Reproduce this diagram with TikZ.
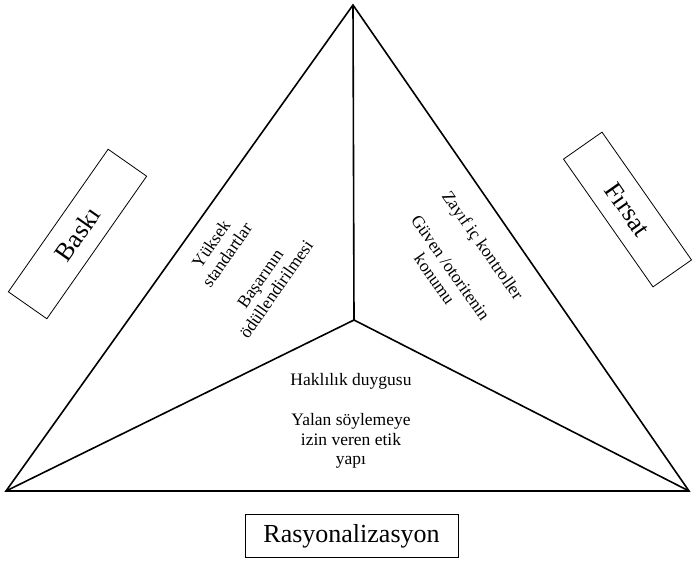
\documentclass[tikz,border=0pt]{standalone}
\usepackage{fontspec}
\setmainfont{Liberation Serif}
\usepackage{tikz}
\usetikzlibrary{positioning}

\begin{document}
\begin{tikzpicture}[x=1pt,y=-1pt,
		kenar/.style={line width=1.6pt},
		kutu/.style={draw,line width=0.8pt,inner sep=0pt,font=\fontsize{26}{30}\selectfont},
		metin/.style={align=center,font=\fontsize{17.5}{19.5}\selectfont}]
			
			\useasboundingbox (0,0) rectangle (692,560);
			
			\coordinate (tepe) at (353,5);
			\coordinate (sol) at (6,491);
			\coordinate (sag) at (689,491);
			\coordinate (orta) at (354,320);
			
			\draw[kenar,line join=miter] (sol) -- (tepe) -- (sag) -- cycle;
			\draw[kenar] (tepe) -- (orta);
			\draw[kenar] (orta) -- (sol);
			\draw[kenar] (orta) -- (sag);
			
			\node[kutu,minimum width=174pt,minimum height=47pt,rotate=55] (baski) at (77.5,234) {Baskı};
			\node[kutu,minimum width=156pt,minimum height=47pt,rotate=-55] (firsat) at (627.5,209.5) {Fırsat};
			\node[kutu,minimum width=213pt,minimum height=43pt] (rasyonel) at (351.5,536) {Rasyonalizasyon};
			
			\node[metin,rotate=55] (baskimetin) at (243.5,266.5) {Yüksek\\standartlar\\[21pt]Başarının\\ödüllendirilmesi};
			\node[metin,rotate=-55] (firsatmetin) at (459,262) {Zayıf iç kontroller\\[20pt]Güven /otoritenin\\konumu};
			\node[metin] (rasyonelmetin) at (351,421) {Haklılık duygusu\\[21pt]Yalan söylemeye\\izin veren etik\\yapı};
		\end{tikzpicture}
\end{document}
